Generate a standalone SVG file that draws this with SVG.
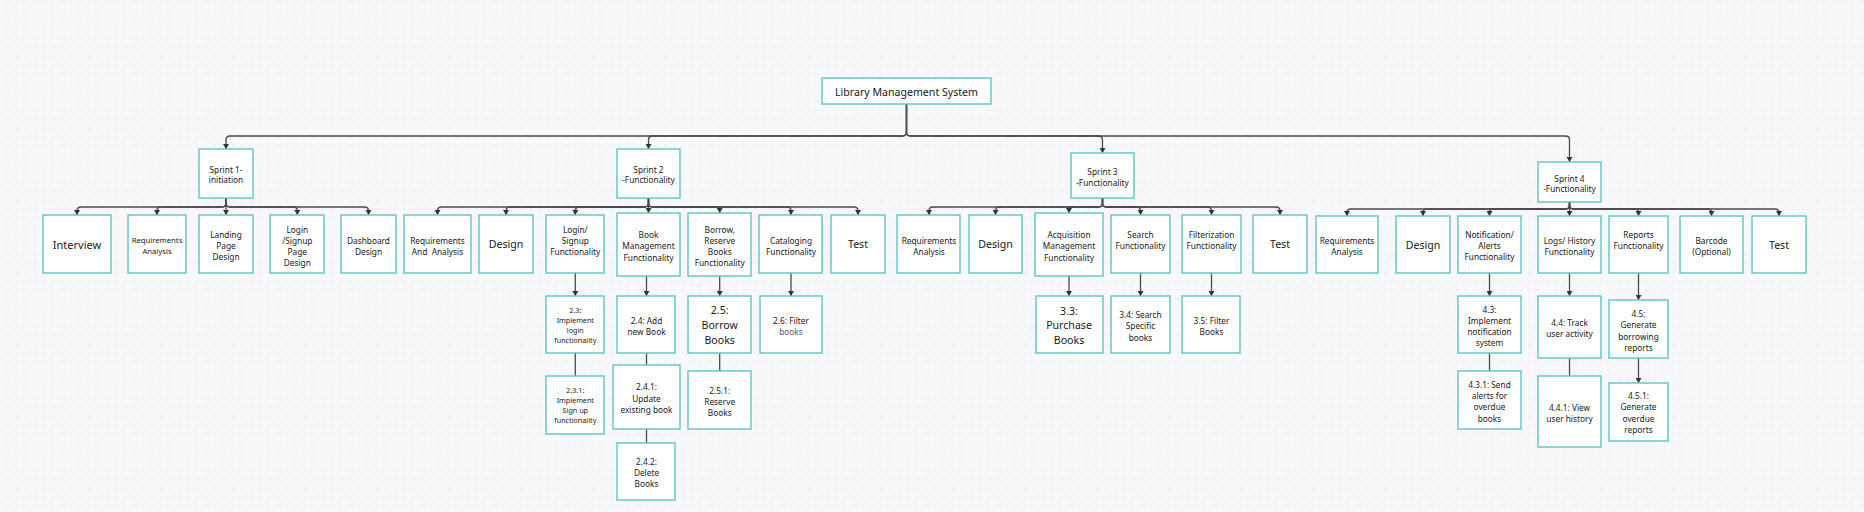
<svg xmlns="http://www.w3.org/2000/svg" width="1864" height="512" viewBox="0 0 1864 512">
<defs>
<pattern id="dots" width="9" height="9" patternUnits="userSpaceOnUse"><rect x="7.5" y="1.5" width="1.2" height="1.2" fill="#dfe0e4"/></pattern>
<marker id="arr" markerWidth="6" markerHeight="6" viewBox="0 0 6 6" refX="5" refY="3" orient="auto" markerUnits="userSpaceOnUse"><path d="M0,0 L5,3 L0,6 Z" fill="#333"/></marker>
<style>
.box{fill:#fff;stroke:#5cc6c2;stroke-width:1.4}
.t{font-family:"Noto Sans","Open Sans",sans-serif;fill:#1a1a1a;text-anchor:middle;dominant-baseline:central}
.s7{font-size:7.2px}.s77{font-size:7.7px}.s8{font-size:8.3px}.s10{font-size:10.6px}.s11{font-size:11px}
.c{fill:none;stroke:#4a4a4a;stroke-width:1.3}
.a{marker-end:url(#arr)}
</style>
</defs>
<rect width="1864" height="512" fill="#f8f8fa"/>
<rect width="1864" height="512" fill="url(#dots)"/>

<g id="connectors">
<path class="c a" d="M906.5,104 V132 Q906.5,136 902.5,136 H230 Q226,136 226,140 V149"/>
<path class="c a" d="M906.5,104 V132 Q906.5,136 902.5,136 H652.5 Q648.5,136 648.5,140 V149"/>
<path class="c a" d="M906.5,104 V132 Q906.5,136 910.5,136 H1098.5 Q1102.5,136 1102.5,140 V153"/>
<path class="c a" d="M906.5,104 V132 Q906.5,136 910.5,136 H1565.5 Q1569.5,136 1569.5,140 V162"/>

<path class="c a" d="M226,198 V203 Q226,207 222,207 H81 Q77,207 77,211 V215"/>
<path class="c a" d="M226,198 V203 Q226,207 222,207 H161 Q157,207 157,211 V215"/>
<path class="c a" d="M226,198 V215"/>
<path class="c a" d="M226,198 V203 Q226,207 230,207 H293.3 Q297.3,207 297.3,211 V215"/>
<path class="c a" d="M226,198 V203 Q226,207 230,207 H364.5 Q368.5,207 368.5,211 V215"/>

<path class="c a" d="M648.5,198 V203 Q648.5,207 644.5,207 H441.5 Q437.5,207 437.5,211 V215"/>
<path class="c a" d="M648.5,198 V203 Q648.5,207 644.5,207 H510 Q506,207 506,211 V215"/>
<path class="c a" d="M648.5,198 V203 Q648.5,207 644.5,207 H579.3 Q575.3,207 575.3,211 V215"/>
<path class="c a" d="M648.5,198 V213"/>
<path class="c a" d="M648.5,198 V203 Q648.5,207 652.5,207 H715.7 Q719.7,207 719.7,211 V213"/>
<path class="c a" d="M648.5,198 V203 Q648.5,207 652.5,207 H787 Q791,207 791,211 V215"/>
<path class="c a" d="M648.5,198 V203 Q648.5,207 652.5,207 H854 Q858,207 858,211 V215"/>

<path class="c a" d="M1102.5,198 V203 Q1102.5,207 1098.5,207 H933 Q929,207 929,211 V215"/>
<path class="c a" d="M1102.5,198 V203 Q1102.5,207 1098.5,207 H999.5 Q995.5,207 995.5,211 V215"/>
<path class="c a" d="M1102.5,198 V203 Q1102.5,207 1098.5,207 H1073 Q1069,207 1069,210 V213"/>
<path class="c a" d="M1102.5,198 V203 Q1102.5,207 1106.5,207 H1136.5 Q1140.5,207 1140.5,211 V215"/>
<path class="c a" d="M1102.5,198 V203 Q1102.5,207 1106.5,207 H1207.5 Q1211.5,207 1211.5,211 V215"/>
<path class="c a" d="M1102.5,198 V203 Q1102.5,207 1106.5,207 H1276 Q1280,207 1280,211 V215"/>

<path class="c a" d="M1569.5,202 V205 Q1569.5,209 1565.5,209 H1351 Q1347,209 1347,212 V216"/>
<path class="c a" d="M1569.5,202 V205 Q1569.5,209 1565.5,209 H1427 Q1423,209 1423,212 V216"/>
<path class="c a" d="M1569.5,202 V205 Q1569.5,209 1565.5,209 H1493.5 Q1489.5,209 1489.5,212 V216"/>
<path class="c a" d="M1569.5,202 V216"/>
<path class="c a" d="M1569.5,202 V205 Q1569.5,209 1573.5,209 H1634.5 Q1638.5,209 1638.5,212 V216"/>
<path class="c a" d="M1569.5,202 V205 Q1569.5,209 1573.5,209 H1707.5 Q1711.5,209 1711.5,212 V216"/>
<path class="c a" d="M1569.5,202 V205 Q1569.5,209 1573.5,209 H1775 Q1779,209 1779,212 V216"/>

<path class="c a" d="M575.3,273 V296"/>
<path class="c a" d="M646.5,276 V296"/>
<path class="c a" d="M719.7,276 V296"/>
<path class="c a" d="M791,273 V296"/>
<path class="c a" d="M1069,276 V296"/>
<path class="c a" d="M1140.5,273 V296"/>
<path class="c a" d="M1211.5,273 V296"/>
<path class="c a" d="M1489.5,273 V296"/>
<path class="c a" d="M1569.5,273 V296"/>
<path class="c a" d="M1638.5,273 V300"/>
<path class="c a" d="M1638.5,358 V383"/>
<path class="c" d="M575.3,353 V376"/>
<path class="c" d="M646.5,353 V365"/>
<path class="c" d="M646.5,429 V443"/>
<path class="c" d="M719.7,353 V371"/>
<path class="c" d="M1489.5,353 V371"/>
<path class="c" d="M1569.5,358 V376"/>
</g>

<g id="n-root"><rect class="box" x="822" y="78" width="169" height="26"/><text class="t s10" x="906.5" y="91.5">Library Management System</text></g>

<g id="n-s1"><rect class="box" x="199" y="149" width="54" height="49"/><text class="t s8" x="226" y="168.6"><tspan x="226">Sprint 1-</tspan><tspan x="226" dy="10.7">initiation</tspan></text></g>
<g id="n-s2"><rect class="box" x="617" y="149" width="63" height="49"/><text class="t s8" x="648.5" y="168.6"><tspan x="648.5">Sprint 2</tspan><tspan x="648.5" dy="10.7">-Functionality</tspan></text></g>
<g id="n-s3"><rect class="box" x="1071" y="153" width="63" height="45"/><text class="t s8" x="1102.5" y="171.1"><tspan x="1102.5">Sprint 3</tspan><tspan x="1102.5" dy="10.7">-Functionality</tspan></text></g>
<g id="n-s4"><rect class="box" x="1538" y="162" width="63" height="40"/><text class="t s8" x="1569.5" y="177.6"><tspan x="1569.5">Sprint 4</tspan><tspan x="1569.5" dy="10.7">-Functionality</tspan></text></g>

<g id="n-interview"><rect class="box" x="43" y="215" width="68" height="58"/><text class="t s11" x="77" y="244">Interview</text></g>
<g id="n-s1-req"><rect class="box" x="128" y="215" width="58" height="58"/><text class="t s77" x="157" y="240"><tspan x="157">Requirements</tspan><tspan x="157" dy="10.7">Analysis</tspan></text></g>
<g id="n-s1-landing"><rect class="box" x="199" y="215" width="54" height="58"/><text class="t s8" x="226" y="234"><tspan x="226">Landing</tspan><tspan x="226" dy="11">Page</tspan><tspan x="226" dy="11">Design</tspan></text></g>
<g id="n-s1-login"><rect class="box" x="270" y="215" width="54" height="58"/><text class="t s8" x="297.3" y="229"><tspan x="297.3">Login</tspan><tspan x="297.3" dy="11">/Signup</tspan><tspan x="297.3" dy="11">Page</tspan><tspan x="297.3" dy="11">Design</tspan></text></g>
<g id="n-s1-dash"><rect class="box" x="341" y="215" width="55" height="58"/><text class="t s8" x="368.5" y="240"><tspan x="368.5">Dashboard</tspan><tspan x="368.5" dy="11">Design</tspan></text></g>

<g id="n-s2-req"><rect class="box" x="404" y="215" width="67" height="58"/><text class="t s8" x="437.5" y="240"><tspan x="437.5">Requirements</tspan><tspan x="437.5" dy="11">And&#160; Analysis</tspan></text></g>
<g id="n-s2-design"><rect class="box" x="479" y="215" width="54" height="58"/><text class="t s10" x="506" y="244">Design</text></g>
<g id="n-s2-login"><rect class="box" x="546" y="215" width="58" height="58"/><text class="t s8" x="575.3" y="229"><tspan x="575.3">Login/</tspan><tspan x="575.3" dy="11">Signup</tspan><tspan x="575.3" dy="11">Functionality</tspan></text></g>
<g id="n-s2-book"><rect class="box" x="617" y="213" width="63" height="63"/><text class="t s8" x="648.5" y="234"><tspan x="648.5">Book</tspan><tspan x="648.5" dy="11.3">Management</tspan><tspan x="648.5" dy="11.3">Functionality</tspan></text></g>
<g id="n-s2-borrow"><rect class="box" x="688" y="213" width="63" height="63"/><text class="t s8" x="719.7" y="229"><tspan x="719.7">Borrow,</tspan><tspan x="719.7" dy="11">Reserve</tspan><tspan x="719.7" dy="11">Books</tspan><tspan x="719.7" dy="11">Functionality</tspan></text></g>
<g id="n-s2-catalog"><rect class="box" x="759" y="215" width="63" height="58"/><text class="t s8" x="791" y="240"><tspan x="791">Cataloging</tspan><tspan x="791" dy="11">Functionality</tspan></text></g>
<g id="n-s2-test"><rect class="box" x="831" y="215" width="54" height="58"/><text class="t s10" x="858" y="244">Test</text></g>

<g id="n-s3-req"><rect class="box" x="897" y="215" width="63" height="58"/><text class="t s8" x="929" y="240"><tspan x="929">Requirements</tspan><tspan x="929" dy="11">Analysis</tspan></text></g>
<g id="n-s3-design"><rect class="box" x="969" y="215" width="53" height="58"/><text class="t s10" x="995.5" y="244">Design</text></g>
<g id="n-s3-acq"><rect class="box" x="1035" y="213" width="68" height="63"/><text class="t s8" x="1069" y="234"><tspan x="1069">Acquisition</tspan><tspan x="1069" dy="11.3">Management</tspan><tspan x="1069" dy="11.3">Functionality</tspan></text></g>
<g id="n-s3-search"><rect class="box" x="1111" y="215" width="59" height="58"/><text class="t s8" x="1140.5" y="234"><tspan x="1140.5">Search</tspan><tspan x="1140.5" dy="11.3">Functionality</tspan></text></g>
<g id="n-s3-filter"><rect class="box" x="1182" y="215" width="59" height="58"/><text class="t s8" x="1211.5" y="234"><tspan x="1211.5">Filterization</tspan><tspan x="1211.5" dy="11.3">Functionality</tspan></text></g>
<g id="n-s3-test"><rect class="box" x="1253" y="215" width="54" height="58"/><text class="t s10" x="1280" y="244">Test</text></g>

<g id="n-s4-req"><rect class="box" x="1316" y="216" width="62" height="57"/><text class="t s8" x="1347" y="240"><tspan x="1347">Requirements</tspan><tspan x="1347" dy="11">Analysis</tspan></text></g>
<g id="n-s4-design"><rect class="box" x="1396" y="216" width="54" height="57"/><text class="t s10" x="1423" y="244.5">Design</text></g>
<g id="n-s4-notif"><rect class="box" x="1458" y="216" width="63" height="57"/><text class="t s8" x="1489.5" y="234"><tspan x="1489.5">Notification/</tspan><tspan x="1489.5" dy="11.2">Alerts</tspan><tspan x="1489.5" dy="11.2">Functionality</tspan></text></g>
<g id="n-s4-logs"><rect class="box" x="1538" y="216" width="63" height="57"/><text class="t s8" x="1569.5" y="240"><tspan x="1569.5">Logs/ History</tspan><tspan x="1569.5" dy="11">Functionality</tspan></text></g>
<g id="n-s4-reports"><rect class="box" x="1609" y="216" width="59" height="57"/><text class="t s8" x="1638.5" y="234"><tspan x="1638.5">Reports</tspan><tspan x="1638.5" dy="11">Functionality</tspan></text></g>
<g id="n-s4-barcode"><rect class="box" x="1680" y="216" width="63" height="57"/><text class="t s8" x="1711.5" y="240"><tspan x="1711.5">Barcode</tspan><tspan x="1711.5" dy="11">(Optional)</tspan></text></g>
<g id="n-s4-test"><rect class="box" x="1752" y="216" width="54" height="57"/><text class="t s10" x="1779" y="244.5">Test</text></g>

<g id="n-2-3"><rect class="box" x="546" y="296" width="58" height="57"/><text class="t s7" x="575.3" y="310.3"><tspan x="575.3">2.3:</tspan><tspan x="575.3" dy="10">Implement</tspan><tspan x="575.3" dy="10">login</tspan><tspan x="575.3" dy="10">functionality</tspan></text></g>
<g id="n-2-3-1"><rect class="box" x="546" y="376" width="58" height="58"/><text class="t s7" x="575.3" y="390.3"><tspan x="575.3">2.3.1:</tspan><tspan x="575.3" dy="10">Implement</tspan><tspan x="575.3" dy="10">Sign up</tspan><tspan x="575.3" dy="10">functionality</tspan></text></g>
<g id="n-2-4"><rect class="box" x="617" y="296" width="58" height="57"/><text class="t s8" x="646.5" y="319.7"><tspan x="646.5">2.4: Add</tspan><tspan x="646.5" dy="11">new Book</tspan></text></g>
<g id="n-2-4-1"><rect class="box" x="613" y="365" width="67" height="64"/><text class="t s8" x="646.5" y="386.3"><tspan x="646.5">2.4.1:</tspan><tspan x="646.5" dy="11.3">Update</tspan><tspan x="646.5" dy="11.3">existing book</tspan></text></g>
<g id="n-2-4-2"><rect class="box" x="617" y="443" width="58" height="57"/><text class="t s8" x="646.5" y="461"><tspan x="646.5">2.4.2:</tspan><tspan x="646.5" dy="11">Delete</tspan><tspan x="646.5" dy="11">Books</tspan></text></g>
<g id="n-2-5"><rect class="box" x="688" y="296" width="63" height="57"/><text class="t s10" x="719.7" y="310"><tspan x="719.7">2.5:</tspan><tspan x="719.7" dy="15">Borrow</tspan><tspan x="719.7" dy="15">Books</tspan></text></g>
<g id="n-2-5-1"><rect class="box" x="688" y="371" width="63" height="58"/><text class="t s8" x="719.7" y="390"><tspan x="719.7">2.5.1:</tspan><tspan x="719.7" dy="11">Reserve</tspan><tspan x="719.7" dy="11">Books</tspan></text></g>
<g id="n-2-6"><rect class="box" x="760" y="296" width="62" height="57"/><text class="t s8" x="791" y="319.7"><tspan x="791">2.6: Filter</tspan><tspan x="791" dy="11" fill="#555">books</tspan></text></g>

<g id="n-3-3"><rect class="box" x="1036" y="296" width="67" height="57"/><text class="t s10" x="1069" y="310.7"><tspan x="1069">3.3:</tspan><tspan x="1069" dy="14.4">Purchase</tspan><tspan x="1069" dy="14.4">Books</tspan></text></g>
<g id="n-3-4"><rect class="box" x="1111" y="296" width="59" height="57"/><text class="t s8" x="1140.5" y="314"><tspan x="1140.5">3.4: Search</tspan><tspan x="1140.5" dy="11.3">Specific</tspan><tspan x="1140.5" dy="11.3">books</tspan></text></g>
<g id="n-3-5"><rect class="box" x="1182" y="296" width="58" height="57"/><text class="t s8" x="1211.5" y="320"><tspan x="1211.5">3.5: Filter</tspan><tspan x="1211.5" dy="10.7">Books</tspan></text></g>

<g id="n-4-3"><rect class="box" x="1458" y="296" width="63" height="57"/><text class="t s8" x="1489.5" y="309"><tspan x="1489.5">4.3:</tspan><tspan x="1489.5" dy="11">Implement</tspan><tspan x="1489.5" dy="11">notification</tspan><tspan x="1489.5" dy="11">system</tspan></text></g>
<g id="n-4-3-1"><rect class="box" x="1458" y="371" width="63" height="58"/><text class="t s8" x="1489.5" y="384"><tspan x="1489.5">4.3.1: Send</tspan><tspan x="1489.5" dy="11.2">alerts for</tspan><tspan x="1489.5" dy="11.2">overdue</tspan><tspan x="1489.5" dy="11.2">books</tspan></text></g>
<g id="n-4-4"><rect class="box" x="1538" y="296" width="63" height="62"/><text class="t s8" x="1569.5" y="322"><tspan x="1569.5">4.4: Track</tspan><tspan x="1569.5" dy="11">user activity</tspan></text></g>
<g id="n-4-4-1"><rect class="box" x="1538" y="376" width="63" height="71"/><text class="t s8" x="1569.5" y="406.7"><tspan x="1569.5">4.4.1: View</tspan><tspan x="1569.5" dy="11">user history</tspan></text></g>
<g id="n-4-5"><rect class="box" x="1609" y="300" width="59" height="58"/><text class="t s8" x="1638.5" y="313"><tspan x="1638.5">4.5:</tspan><tspan x="1638.5" dy="11.3">Generate</tspan><tspan x="1638.5" dy="11.3">borrowing</tspan><tspan x="1638.5" dy="11.3">reports</tspan></text></g>
<g id="n-4-5-1"><rect class="box" x="1609" y="383" width="59" height="58"/><text class="t s8" x="1638.5" y="395.3"><tspan x="1638.5">4.5.1:</tspan><tspan x="1638.5" dy="11.1">Generate</tspan><tspan x="1638.5" dy="11.1">overdue</tspan><tspan x="1638.5" dy="11.1">reports</tspan></text></g>
</svg>
